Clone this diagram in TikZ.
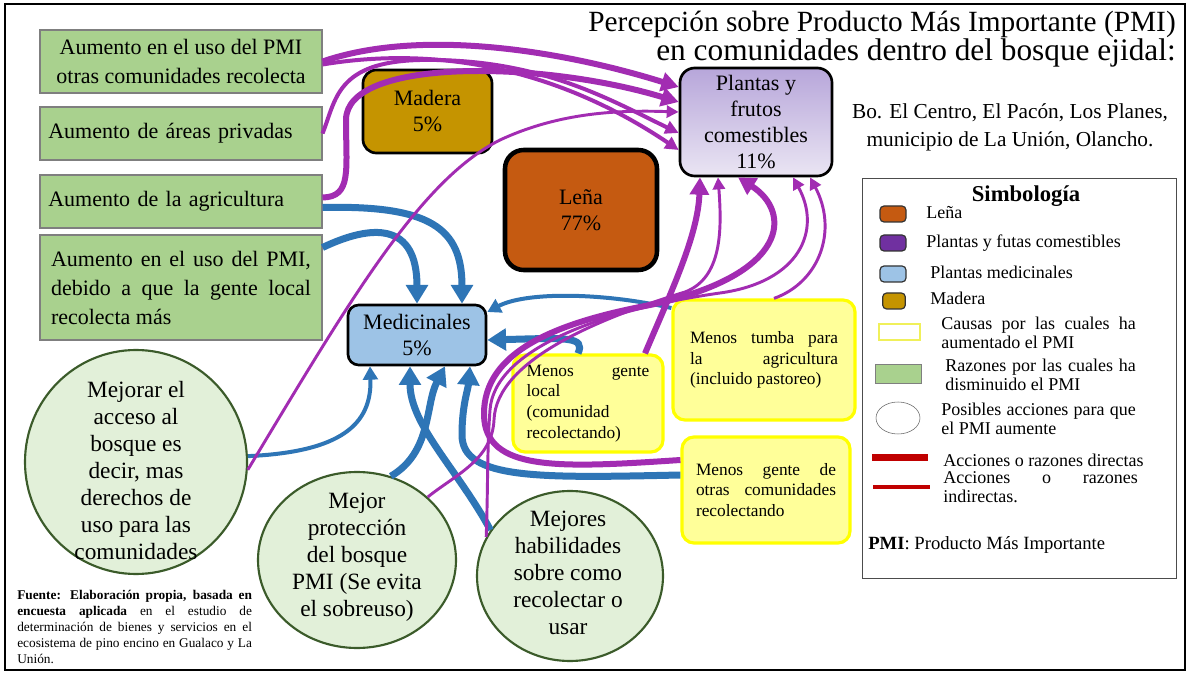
\documentclass[tikz,border=0pt]{standalone}
\usepackage{fontspec}
\setmainfont{Liberation Serif}
\usetikzlibrary{arrows.meta,shapes.geometric,calc}

\definecolor{pur}{HTML}{A22CB2}
\definecolor{blu}{HTML}{2E75B6}
\definecolor{grfill}{HTML}{A9D18E}
\definecolor{grline}{HTML}{7F7F7F}
\definecolor{cfill}{HTML}{E2F0D9}
\definecolor{cline}{HTML}{3B5B2A}
\definecolor{yfill}{HTML}{FFFF99}
\definecolor{yline}{HTML}{FFFF00}
\definecolor{ylegend}{HTML}{F0F05A}
\definecolor{madera}{HTML}{C59400}
\definecolor{lena}{HTML}{C55A11}
\definecolor{medic}{HTML}{9DC3E6}
\definecolor{plantA}{HTML}{B7A6DA}
\definecolor{plantB}{HTML}{EAE5F3}
\definecolor{plantsw}{HTML}{7030A0}
\definecolor{redl}{HTML}{C00000}

\newcommand\fsz[2]{\fontsize{#1}{#2}\selectfont}

\begin{document}
\begin{tikzpicture}[x=0.75pt,y=-0.75pt,
  gbox/.style={draw=grline, line width=0.8pt, fill=grfill, inner sep=0pt, minimum width=211.5pt, font=\fsz{16.5pt}{21.75pt}},
  prodbox/.style={draw=black, line width=2pt, inner sep=0pt, align=center, font=\fsz{16.5pt}{19.5pt}},
  ybox/.style={draw=yline, line width=2.4pt, fill=yfill, rounded corners=9pt, inner sep=0pt, align=justify, font=\fsz{13pt}{15.5pt}},
  circ/.style={ellipse, draw=cline, line width=1.6pt, fill=cfill, inner sep=0pt},
  ctext/.style={align=center, font=\fsz{17.5pt}{20.25pt}, inner sep=0pt},
  leg/.style={font=\fsz{13.5pt}{14pt}, inner sep=0pt, anchor=west},
  swatch/.style={draw=black!80, line width=0.9pt, rounded corners=3pt, minimum width=19.5pt, minimum height=12pt, inner sep=0pt},
  parr/.style={draw=pur, line width=4.5pt, -{Triangle[length=13pt,width=14pt]}},
  pmid/.style={draw=pur, line width=3pt, -{Triangle[length=10pt,width=10pt]}},
  pthin/.style={draw=pur, line width=2.2pt, -{Triangle[length=9pt,width=9pt]}},
  barr/.style={draw=blu, line width=5.25pt, -{Triangle[length=14pt,width=16pt]}},
  bmid/.style={draw=blu, line width=3pt, -{Triangle[length=10pt,width=11pt]}},
]
\useasboundingbox (0,0) rectangle (1189,673);
\fill[white] (0,0) rectangle (1189,673);
\draw[line width=1.6pt] (5,4) rectangle (1185,670);

% title and place
\node[align=right, anchor=east, inner sep=0pt] (title) at (1176,39)
  {\fsz{22pt}{20pt}Percepción sobre Producto Más Importante (PMI)\\
   \fsz{23.5pt}{20pt}en comunidades dentro del bosque ejidal:};
\node[font=\fsz{16pt}{21pt}, align=center, inner sep=0pt] (sub) at (1010,127) {Bo. El Centro, El Pacón, Los Planes,\\municipio de La Unión, Olancho.};

% reasons (green)
\node[gbox, minimum height=47.25pt, align=center] (g1) at (181,61.5) {Aumento en el uso del PMI\\otras comunidades recolecta};
\node[gbox, minimum height=39.75pt, text width=199pt, align=left] (g2) at (181,133.5) {Aumento de áreas privadas};
\node[gbox, minimum height=39.75pt, text width=199pt, align=left] (g3) at (181,201.5) {Aumento de la agricultura};
\node[gbox, minimum height=78.75pt, text width=195pt, align=justify] (g4) at (181,287.5) {Aumento en el uso del PMI,\linebreak debido a que la gente local\linebreak recolecta más};

% products
\node[prodbox, fill=madera, rounded corners=10pt, minimum width=96.75pt, minimum height=62.25pt] (mad) at (427.5,111.5) {Madera\\5\%};
\node[prodbox, fill=lena, line width=3.4pt, rounded corners=14pt, minimum width=114pt, minimum height=90pt] (lena) at (581,210) {Leña\\77\%};
\node[prodbox, top color=plantA, bottom color=plantB, rounded corners=11pt, minimum width=114pt, minimum height=81pt] (pla) at (756,122) {Plantas y\\frutos\\comestibles\\11\%};
\node[prodbox, fill=medic, rounded corners=8pt, minimum width=103.5pt, minimum height=45pt] (med) at (417,335) {Medicinales\\5\%};

% causes (yellow)
\node[ybox, minimum width=112.5pt, minimum height=72.75pt, text width=92pt] (y1) at (588,403.5) {Menos gente\linebreak local\newline(comunidad\newline recolectando)};
\node[ybox, minimum width=136.5pt, minimum height=90pt, text width=111pt] (y2) at (764,360) {Menos tumba para\linebreak la agricultura\linebreak (incluido pastoreo)};
\node[ybox, minimum width=126pt, minimum height=79.5pt, text width=105pt] (y3) at (766,490) {Menos gente de\linebreak otras comunidades\linebreak recolectando};

% possible actions (circles)
\node[circ, minimum width=166.5pt, minimum height=168pt] (c1) at (136,462) {};
\node[ctext] (c1t) at (136,471) {Mejorar el\\acceso al\\bosque es\\decir, mas\\derechos de\\uso para las\\comunidades};
\node[circ, minimum width=148.5pt, minimum height=132pt] (c2) at (357,560) {};
\node[ctext] (c2t) at (357,557) {Mejor\\protección\\del bosque\\PMI (Se evita\\el sobreuso)};
\node[circ, minimum width=139.5pt, minimum height=127.5pt] (c3) at (570,576) {};
\node[ctext] (c3t) at (568,573) {Mejores\\habilidades\\sobre como\\recolectar o\\usar};

% blue connectors towards the medicinal plants
\draw[barr] ([shift={(0,6)}]g3.east) .. controls (430,205) and (462,228) .. ([shift={(45,0)}]med.north);
\draw[barr] ([shift={(0,-40)}]g4.east) .. controls (372,224) and (417,222) .. (med.north);
\draw[bmid] (c1.3) .. controls (340,452) and (372,425) .. ([shift={(-47,0)}]med.south);
\draw[barr] (c3.150) .. controls (458,470) and (410,425) .. ([shift={(-7,0)}]med.south);
\draw[barr] (c2.68) .. controls (432,452) and (425,405) .. ([shift={(28,0)}]med.south);
\draw[barr] ([shift={(0,-15)}]y3.west) .. controls (540,478) and (462,480) .. (462,435) .. controls (462,405) and (468,390) .. ([shift={(53,0)}]med.south);
\draw[barr] ([shift={(-10,0)}]y1.north) .. controls (586,336) and (565,338) .. ([shift={(0,5)}]med.east);
\draw[bmid] ([shift={(0,-52)}]y2.west) .. controls (600,292) and (525,292) .. ([shift={(0,-23)}]med.east);

% purple connectors towards the edible plants
\draw[parr] (g1.east) .. controls (420,28) and (560,50) .. ([shift={(0,-35)}]pla.west);
\draw[parr] ([shift={(0,-4)}]g3.east) .. controls (352,197) and (346,170) .. (346,120) .. controls (346,58) and (540,60) .. ([shift={(0,-20)}]pla.west);
\draw[pmid] (g2.east) .. controls (336,100) and (336,62) .. (420,60) .. controls (540,58) and (610,100) .. ([shift={(0,11)}]pla.west);
\draw[pmid] ([shift={(0,3)}]g1.east) .. controls (440,45) and (560,70) .. ([shift={(0,28)}]pla.west);
\draw[pthin] (c1.-4) .. controls (350,300) and (420,180) .. (500,140) .. controls (560,112) and (620,110) .. ([shift={(0,-10)}]pla.west);
\draw[parr] ([shift={(57,0)}]y1.north) .. controls (672,290) and (698,235) .. ([shift={(-56,0)}]pla.south);
\draw[parr] ([shift={(0,-30)}]y3.west) .. controls (560,468) and (485,472) .. (484,415) .. controls (483,350) and (560,322) .. (650,305) .. controls (790,275) and (792,212) .. ([shift={(-18,0)}]pla.south);
\draw[pthin] (c2.north east) .. controls (455,475) and (492,460) .. (494,420) .. controls (496,360) and (600,318) .. (685,292) .. controls (722,278) and (722,230) .. ([shift={(-38,0)}]pla.south);
\draw[pthin] (c3.155) .. controls (488,490) and (487,450) .. (490,410) .. controls (494,350) and (600,310) .. (720,293) .. controls (800,282) and (822,230) .. ([shift={(37,0)}]pla.south);
\draw[pthin] ([shift={(10,0)}]y2.north) .. controls (820,282) and (838,230) .. ([shift={(54,0)}]pla.south);

% legend
\draw[black!70, line width=0.6pt] (862,178) rectangle (1176,578);
\node[font=\bfseries\fsz{17pt}{20pt}, inner sep=0pt] (legt) at (1026,196) {Simbología};
\node[swatch, fill=lena] (s1) at (893,214) {};
\node[leg] (l1) at (926,213) {Leña};
\node[swatch, fill=plantsw] (s2) at (893,243) {};
\node[leg] (l2) at (926,243) {Plantas y futas comestibles};
\node[swatch, fill=medic] (s3) at (893,274) {};
\node[leg] (l3) at (930,272) {Plantas medicinales};
\node[swatch, fill=madera, minimum width=17pt] (s4) at (894,301) {};
\node[leg] (l4) at (930,298) {Madera};
\node[draw=ylegend, line width=1pt, fill=white, minimum width=30.75pt, minimum height=12pt, inner sep=0pt] (s5) at (899.5,332) {};
\node[leg, text width=146pt, align=justify] (l5) at (941,333) {Causas por las cuales ha\linebreak aumentado el PMI};
\node[draw=grline, fill=grfill, minimum width=34.5pt, minimum height=14.25pt, inner sep=0pt] (s6) at (898,373.5) {};
\node[leg, text width=143pt, align=justify] (l6) at (945,375) {Razones por las cuales ha\linebreak disminuido el PMI};
\node[ellipse, draw=black!60, minimum width=33pt, minimum height=24pt, inner sep=0pt] (s7) at (898,418) {};
\node[leg, text width=146pt, align=justify] (l7) at (941,419) {Posibles acciones para que\linebreak el PMI aumente};
\draw[redl, line width=5.25pt] (872,458) -- (928,458);
\node[leg] (l8) at (943,460) {Acciones o razones directas};
\draw[redl, line width=3pt] (873,487) -- (930,487);
\node[leg, text width=146pt, align=justify] (l9) at (943,487) {Acciones o razones\linebreak indirectas.};
\node[leg, font=\fsz{14pt}{16pt}] (l10) at (868,545) {\textbf{PMI}: Producto Más Importante};

% source note
\node[anchor=north west, inner sep=0pt, text width=176pt, align=justify, font=\fsz{10pt}{12pt}] (src) at (17,590) {\hyphenpenalty=10000 \textbf{Fuente: Elaboración propia, basada en\linebreak encuesta aplicada} en el estudio de\linebreak determinación de bienes y servicios en el\linebreak ecosistema de pino encino en Gualaco y La\linebreak Unión.};
\end{tikzpicture}
\end{document}
